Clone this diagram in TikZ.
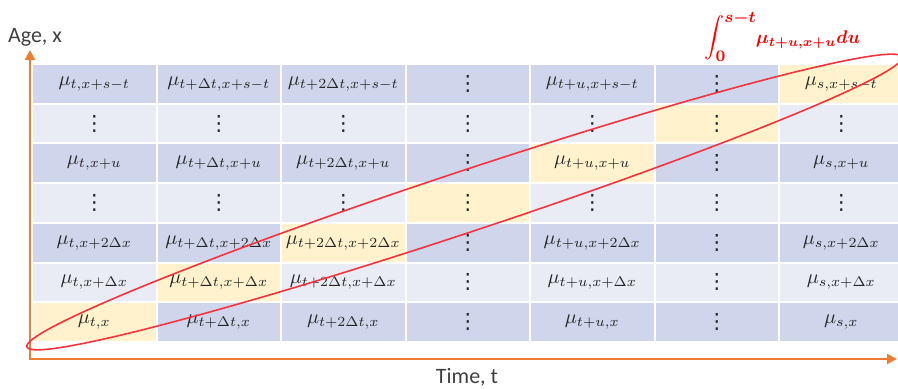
\documentclass[tikz,border=0pt]{standalone}
\usepackage{graphicx}
\usepackage[no-math]{fontspec}
\newfontfamily\axisfont{Carlito}
\newfontfamily\dotsfont{DejaVu Sans}
\usetikzlibrary{arrows.meta}

\definecolor{bandA}{HTML}{CFD5EA}
\definecolor{bandB}{HTML}{E9EBF5}
\definecolor{hilite}{HTML}{FFF2CC}
\definecolor{axisorange}{HTML}{ED7D31}
\definecolor{curvered}{HTML}{F5333F}
\definecolor{labelgray}{HTML}{404040}

% vertical ellipsis glyph used in the grid
\newcommand\vd{\hbox{\dotsfont\fontsize{10.5}{12}\selectfont ⋮}}

% one table row: #1 = row index (1 = top), #2 = band colour, #3 = cell contents
\newcommand\tablerow[3]{%
  \foreach \txt [count=\cc] in {#3} {
    \pgfmathtruncatemacro\rowsum{#1+\cc}
    \ifnum\rowsum=8 \def\cellfill{hilite}\else\def\cellfill{#2}\fi
    \node[cell, fill=\cellfill] (c#1-\cc)
      at ({32+124.5*(\cc-0.5)}, {64+39.71*(#1-0.5)}) {$\txt$};
  }}

\newsavebox\intbox

\begin{document}
\sbox\intbox{\color{red}\boldmath%
  \fontsize{12}{14}\selectfont$\displaystyle\int_0^{s-t}$\hspace{-0.5pt}%
  \scalebox{0.92}{\fontsize{10}{12}\selectfont$\mu_{t+u,x+u}du$}}%
\begin{tikzpicture}[x=0.5pt, y=-0.5pt,
  cell/.style={minimum width=61.25pt, minimum height=18.86pt, inner sep=0pt,
    text=black!85, font=\fontsize{10}{12}\selectfont},
  axisline/.style={draw=axisorange, line width=1.2pt,
    {Triangle[width=5pt,length=5pt]}-{Triangle[width=5pt,length=5pt]}},
  axislabel/.style={font=\axisfont\fontsize{11}{13}\selectfont, text=labelgray},
  ringline/.style={draw=curvered, line width=0.8pt},
  intlabel/.style={inner sep=0pt, anchor=base west}]

\useasboundingbox (0,0) rectangle (898,389);
\clip (0,0) rectangle (898,389);

% the grid of rates
\tablerow{1}{bandA}{{\mu_{t,x+s-t}},{\mu_{t+\Delta t,x+s-t}},{\mu_{t+2\Delta t,x+s-t}},{\vd},{\mu_{t+u,x+s-t}},{\vd},{\mu_{s,x+s-t}}}
\tablerow{2}{bandB}{{\vd},{\vd},{\vd},{\vd},{\vd},{\vd},{\vd}}
\tablerow{3}{bandA}{{\mu_{t,x+u}},{\mu_{t+\Delta t,x+u}},{\mu_{t+2\Delta t,x+u}},{\vd},{\mu_{t+u,x+u}},{\vd},{\mu_{s,x+u}}}
\tablerow{4}{bandB}{{\vd},{\vd},{\vd},{\vd},{\vd},{\vd},{\vd}}
\tablerow{5}{bandA}{{\mu_{t,x+2\Delta x}},{\mu_{t+\Delta t,x+2\Delta x}},{\mu_{t+2\Delta t,x+2\Delta x}},{\vd},{\mu_{t+u,x+2\Delta x}},{\vd},{\mu_{s,x+2\Delta x}}}
\tablerow{6}{bandB}{{\mu_{t,x+\Delta x}},{\mu_{t+\Delta t,x+\Delta x}},{\mu_{t+2\Delta t,x+\Delta x}},{\vd},{\mu_{t+u,x+\Delta x}},{\vd},{\mu_{s,x+\Delta x}}}
\tablerow{7}{bandA}{{\mu_{t,x}},{\mu_{t+\Delta t,x}},{\mu_{t+2\Delta t,x}},{\vd},{\mu_{t+u,x}},{\vd},{\mu_{s,x}}}

% axes
\coordinate (ytip) at (30,50);
\coordinate (xtip) at (897,359);
\draw[axisline] (ytip) |- (xtip);
\node[axislabel] (agelabel) at (35,37) {Age, x};
\node[axislabel] (timelabel) at (467,377) {Time, t};

% diagonal band ring
\coordinate (ringc) at (464.5,202);
\draw[ringline, rotate around={18.33:(ringc)}] (ringc) ellipse [x radius=230.5pt, y radius=15.2pt];

% integral along the diagonal
\node[intlabel] (diag) at (704,44) {\usebox\intbox};
\end{tikzpicture}
\end{document}
